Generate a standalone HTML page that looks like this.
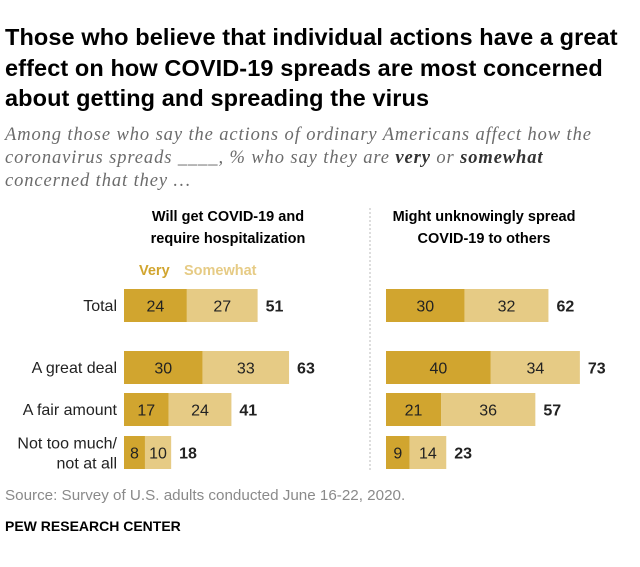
<!DOCTYPE html>
<html><head><meta charset="utf-8"><style>
body{margin:0;background:#fff;font-family:"Liberation Sans",sans-serif;}
#c{position:relative;width:640px;height:567px;overflow:hidden}
.t{position:absolute;white-space:nowrap}
</style></head><body>
<div id="c">
<div class="t" style="left:5px;top:22px;font-size:23.5px;font-weight:bold;line-height:30.5px;color:#000;letter-spacing:0.1px">Those who believe that individual actions have a great<br>effect on how COVID-19 spreads are most concerned<br>about getting and spreading the virus</div>
<div class="t" style="left:5px;top:124px;font-size:18.5px;font-style:italic;line-height:23px;color:#6b6b6b;font-family:'Liberation Serif',serif;letter-spacing:0.9px">Among those who say the actions of ordinary Americans affect how the<br>coronavirus spreads ____, % who say they are <b style="color:#333">very</b> or <b style="color:#333">somewhat</b><br>concerned that they …</div>
<div class="t" style="left:118px;width:220px;top:206px;text-align:center;font-size:14.5px;font-weight:bold;line-height:22px">Will get COVID-19 and<br>require hospitalization</div>
<div class="t" style="left:374px;width:220px;top:206px;text-align:center;font-size:14.5px;font-weight:bold;line-height:22px">Might unknowingly spread<br>COVID-19 to others</div>
<div class="t" style="left:139px;top:263px;font-size:14.5px;font-weight:bold;color:#d1a52f">Very</div>
<div class="t" style="left:184px;top:263px;font-size:14.5px;font-weight:bold;color:#e6cb85">Somewhat</div>
<svg id="s" width="640" height="567" style="position:absolute;left:0;top:0">
<line x1="370" y1="208" x2="370" y2="472" stroke="#bbb" stroke-dasharray="2,2"/>
</svg>
<div class="t" style="left:5px;top:487px;font-size:15.2px;color:#8a8a8a">Source: Survey of U.S. adults conducted June 16-22, 2020.</div>
<div class="t" style="left:5px;top:518px;font-size:14px;font-weight:bold;color:#000">PEW RESEARCH CENTER</div>
</div>
<script>
const categories=["Total","A great deal","A fair amount","Not too much/|not at all"];
const hospVery=[24,30,17,8];
const hospSomewhat=[27,33,24,10];
const hospTotal=[51,63,41,18];
const spreadVery=[30,40,21,9];
const spreadSomewhat=[32,34,36,14];
const spreadTotal=[62,73,57,23];
const s=document.getElementById('s');
const NS='http://www.w3.org/2000/svg';
const rowY=[289,351,393,436],bh=33,k=2.62;
function el(tag,a){const e=document.createElementNS(NS,tag);for(const n in a)e.setAttribute(n,a[n]);s.appendChild(e);return e;}
function txt(x,y,str,anchor,weight,size){const t=el('text',{x:x,y:y,'text-anchor':anchor,'font-size':size||15,'font-weight':weight||'normal',fill:'#222','font-family':'Liberation Sans, sans-serif'});t.textContent=str;return t;}
categories.forEach((c,i)=>{
  const parts=c.split('|');
  const y=rowY[i]+bh/2;
  if(parts.length==1){const t=txt(117,y+5.5,parts[0],'end','normal',16);

}
  else parts.forEach((p,j)=>{const t=txt(117,y-4+j*20,p,'end','normal',16);

});
});
function panel(x0,v,sw,tot,name){
  v.forEach((val,i)=>{
    const y=rowY[i];
    const w1=val*k,w2=sw[i]*k;
    const r1=el('rect',{x:x0,y:y,width:w1,height:bh,fill:'#d1a52f'});


    const r2=el('rect',{x:x0+w1,y:y,width:w2,height:bh,fill:'#e6cb85'});


    const a=txt(x0+w1/2,y+bh/2+6,val,'middle','normal',16);


    const b=txt(x0+w1+w2/2,y+bh/2+6,sw[i],'middle','normal',16);


    const t=txt(x0+w1+w2+8,y+bh/2+6,tot[i],'start','bold',16);


  });
}
panel(124,hospVery,hospSomewhat,hospTotal,'hospitalization');
panel(386,spreadVery,spreadSomewhat,spreadTotal,'spread');
</script>
</body></html>
